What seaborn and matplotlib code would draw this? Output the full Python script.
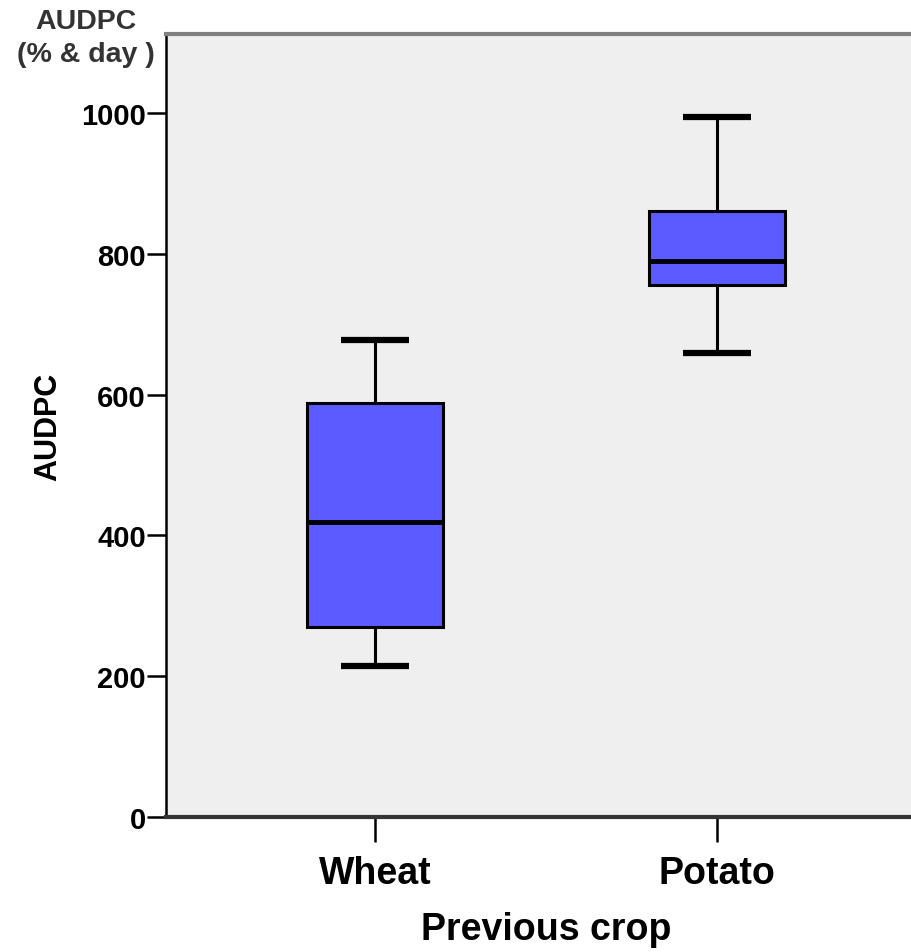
import numpy as np
import pandas as pd
import matplotlib
matplotlib.use("Agg")
import matplotlib.pyplot as plt
import seaborn as sns

# Five-number summaries (min, Q1, median, Q3, max)
crops = ["Wheat", "Potato"]
wheat_summary = [214, 270, 419, 588, 677]
potato_summary = [659, 756, 790, 861, 994]
y_ticks = [0, 200, 400, 600, 800, 1000]

df = pd.DataFrame({
    "Previous crop": ["Wheat"] * len(wheat_summary) + ["Potato"] * len(potato_summary),
    "AUDPC": wheat_summary + potato_summary,
})

sns.set_style("white")
plt.rcParams["font.family"] = ["Liberation Sans", "DejaVu Sans"]
plt.rcParams["font.weight"] = "bold"
plt.rcParams["text.color"] = "black"
plt.rcParams["axes.labelcolor"] = "black"
plt.rcParams["xtick.color"] = "black"
plt.rcParams["ytick.color"] = "black"

W, H = 911, 953
fig = plt.figure(figsize=(W / 100, H / 100), dpi=100)
left, right, top, bottom = 166, 926, 35, 818
ax = fig.add_axes([left / W, 1 - bottom / H, (right - left) / W, (bottom - top) / H])
ax.set_facecolor("#EFEFEF")

sns.boxplot(
    data=df, x="Previous crop", y="AUDPC", order=crops,
    whis=(0, 100), width=0.4, color="#5B5BFF", saturation=1,
    linecolor="black", linewidth=2.2, ax=ax,
    medianprops=dict(linewidth=3.5, color="black", solid_capstyle="butt"),
    capprops=dict(linewidth=4.5, color="black", solid_capstyle="butt"),
    whiskerprops=dict(linewidth=2.2, color="black", solid_capstyle="butt"),
)

ax.set_xlim(-0.611, 1.611)
ax.set_ylim(0, 1112)
ax.set_yticks(y_ticks)
ax.set_yticklabels([str(v) for v in y_ticks])

ax.spines["left"].set_color("black"); ax.spines["left"].set_linewidth(1.8)
ax.spines["bottom"].set_color("#333333"); ax.spines["bottom"].set_linewidth(3)
ax.spines["top"].set_color("#808080"); ax.spines["top"].set_linewidth(3)
ax.spines["right"].set_visible(False)

ax.tick_params(axis="y", length=14, width=1.8, colors="black", pad=0.5, labelsize=21, left=True)
ax.tick_params(axis="x", length=18, width=1.8, colors="black", pad=9, labelsize=27, bottom=True)
for lab in ax.get_yticklabels() + ax.get_xticklabels():
    lab.set_fontweight("bold")
    lab.set_color("black")

ax.set_xlabel("Previous crop", fontsize=27, fontweight="bold", labelpad=15, color="black")
ax.set_ylabel("AUDPC", fontsize=22, fontweight="bold", labelpad=13, color="black")

fig.text(86 / W, 1 - 22 / H, "AUDPC", ha="center", va="center", fontsize=20.5, fontweight="bold", color="#333333")
fig.text(86 / W, 1 - 55 / H, "(% & day )", ha="center", va="center", fontsize=20.5, fontweight="bold", color="#333333")

fig.savefig("out.png", dpi=100)
